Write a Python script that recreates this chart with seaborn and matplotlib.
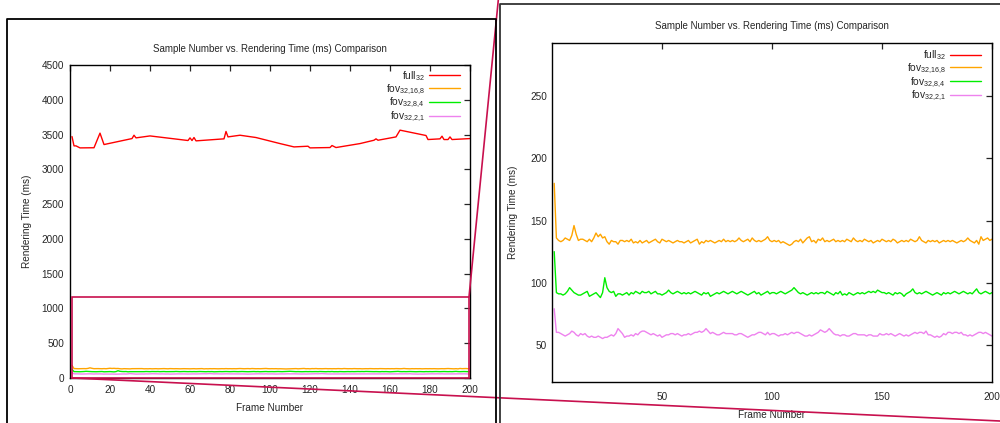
import matplotlib
matplotlib.use("Agg")
import matplotlib.pyplot as plt
import seaborn as sns
from matplotlib.patches import Rectangle, ConnectionPatch
from matplotlib.lines import Line2D

# DATA ----------------------------------------------------------------------------
frames = list(range(1, 201))

red_frames = [1, 2, 3, 5, 12, 15, 17, 31, 32, 33, 40, 59, 60, 61, 62, 63, 77, 78, 79, 85,
              93, 105, 112, 119, 120, 130, 131, 133, 145, 152, 153, 154, 163, 165, 178, 179,
              185, 186, 187, 189, 190, 191, 200]
red_ms = [3471, 3337, 3337, 3308, 3310, 3520, 3356, 3442, 3490, 3452, 3480, 3414, 3452, 3414,
          3457, 3409, 3438, 3544, 3466, 3490, 3457, 3370, 3322, 3332, 3308, 3313, 3342, 3313,
          3370, 3418, 3438, 3418, 3466, 3563, 3486, 3428, 3438, 3476, 3428, 3428, 3466, 3428,
          3442]

orange_ms = [
    180, 136, 134, 133, 134, 136, 135, 134, 138, 146, 139, 134, 135, 135, 134, 133, 135, 133, 136, 140,
    137, 139, 136, 137, 133, 131, 134, 133, 133, 131, 134, 134, 133, 134, 133, 135, 132, 133, 132, 134,
    132, 133, 134, 132, 133, 134, 135, 133, 132, 135, 134, 133, 134, 133, 132, 133, 134, 133, 133, 132,
    133, 134, 132, 133, 134, 135, 131, 133, 132, 134, 133, 134, 133, 132, 133, 134, 133, 135, 133, 134,
    133, 134, 133, 134, 136, 134, 133, 134, 135, 133, 136, 134, 133, 134, 133, 134, 135, 137, 134, 133,
    134, 133, 134, 132, 133, 132, 131, 130, 131, 133, 134, 133, 135, 132, 134, 136, 137, 133, 134, 132,
    135, 134, 136, 133, 134, 133, 134, 135, 133, 134, 133, 134, 133, 135, 134, 133, 136, 134, 133, 134,
    133, 135, 134, 133, 134, 132, 133, 134, 133, 135, 134, 133, 134, 133, 135, 134, 132, 133, 134, 133,
    134, 133, 135, 134, 133, 134, 137, 134, 133, 132, 134, 133, 134, 133, 134, 132, 133, 134, 133, 134,
    133, 134, 133, 132, 133, 134, 133, 134, 136, 134, 133, 132, 134, 131, 137, 134, 135, 136, 134, 135]

green_ms = [
    125, 92, 91, 91, 90, 91, 93, 96, 94, 92, 91, 90, 90, 91, 92, 93, 89, 90, 91, 92,
    90, 88, 92, 104, 96, 93, 92, 93, 89, 91, 91, 90, 91, 92, 90, 92, 91, 93, 92, 91,
    93, 92, 92, 93, 91, 92, 93, 91, 91, 90, 91, 92, 94, 92, 91, 92, 93, 92, 91, 92,
    91, 92, 91, 92, 93, 92, 91, 90, 92, 91, 92, 89, 90, 91, 92, 91, 92, 93, 92, 91,
    92, 93, 92, 91, 92, 93, 92, 91, 90, 91, 92, 93, 91, 92, 90, 91, 92, 93, 91, 92,
    92, 91, 92, 93, 92, 91, 92, 93, 94, 96, 94, 92, 91, 92, 91, 90, 91, 92, 91, 92,
    91, 92, 92, 91, 93, 92, 91, 90, 92, 91, 93, 90, 91, 90, 92, 91, 90, 91, 92, 91,
    92, 91, 92, 93, 92, 93, 92, 94, 93, 92, 92, 91, 92, 91, 90, 92, 91, 92, 91, 89,
    91, 92, 93, 95, 92, 91, 92, 91, 92, 93, 92, 91, 90, 91, 92, 91, 90, 92, 91, 92,
    91, 92, 93, 92, 91, 92, 93, 92, 91, 92, 91, 93, 95, 92, 91, 92, 93, 92, 91, 92]

violet_ms = [
    79, 60, 60, 59, 58, 57, 58, 59, 61, 60, 58, 57, 59, 58, 59, 57, 56, 57, 56, 56,
    57, 56, 55, 56, 56, 57, 58, 57, 59, 63, 61, 59, 56, 57, 57, 58, 57, 59, 58, 60,
    61, 61, 60, 59, 58, 59, 58, 57, 58, 56, 57, 58, 58, 59, 59, 58, 59, 58, 57, 58,
    58, 59, 58, 59, 60, 60, 61, 60, 61, 63, 61, 59, 60, 59, 58, 58, 59, 60, 59, 59,
    59, 59, 58, 58, 59, 59, 58, 57, 56, 57, 58, 58, 59, 60, 60, 59, 58, 60, 58, 59,
    59, 58, 57, 58, 58, 59, 58, 59, 60, 59, 60, 60, 59, 58, 57, 57, 58, 57, 58, 59,
    60, 62, 61, 60, 61, 63, 61, 59, 58, 58, 57, 58, 58, 57, 57, 58, 59, 59, 58, 58,
    58, 58, 57, 58, 58, 57, 57, 57, 59, 58, 58, 59, 58, 59, 58, 57, 58, 59, 58, 57,
    58, 57, 58, 59, 60, 59, 60, 60, 59, 61, 58, 58, 57, 56, 57, 56, 57, 59, 58, 60,
    60, 59, 60, 60, 59, 60, 58, 58, 57, 58, 57, 58, 59, 60, 60, 59, 60, 59, 58, 57]

labels = ["full$_{32}$", "fov$_{32{,}16{,}8}$", "fov$_{32{,}8{,}4}$", "fov$_{32{,}2{,}1}$"]
colors = ["#ff0000", "#ffa500", "#00ee00", "#ee82ee"]

# STYLE ---------------------------------------------------------------------------
sns.set_style("white")
plt.rcParams["font.family"] = ["Liberation Sans", "DejaVu Sans"]
plt.rcParams["mathtext.default"] = "regular"
plt.rcParams["font.size"] = 7.2
zoom_col = "#c8104e"

fig = plt.figure(figsize=(10, 4.23), dpi=100)
ax1 = fig.add_axes([0.070, 0.1064, 0.400, 0.740])
ax2 = fig.add_axes([0.552, 0.0969, 0.440, 0.8014])

series = [(red_frames, red_ms), (frames, orange_ms), (frames, green_ms), (frames, violet_ms)]
legend_anchor = {ax1: (0.975, 0.987), ax2: (0.975, 0.9848)}

for ax in (ax1, ax2):
    for (x, y), lab, c in zip(series, labels, colors):
        sns.lineplot(x=x, y=y, color=c, label=lab, linewidth=1.0, ax=ax)
    ax.set_xlabel("Frame Number", labelpad=6)
    ax.set_ylabel("Rendering Time (ms)")
    ax.tick_params(direction="in", top=True, right=True, length=4, width=0.9, labelsize=7.2)
    for s in ax.spines.values():
        s.set_color("black")
        s.set_linewidth(1.0)
    ax.legend(loc="upper right", bbox_to_anchor=legend_anchor[ax], markerfirst=False,
              frameon=False, handlelength=3.0, handletextpad=0.4, labelspacing=-0.05,
              borderpad=0, borderaxespad=0, fontsize=7.4)

ax1.set_xlim(0, 200)
ax1.set_ylim(0, 4500)
ax1.set_xticks(range(0, 201, 20))
ax1.set_yticks(range(0, 4501, 500))
ax1.set_title("Sample Number vs. Rendering Time (ms) Comparison", pad=9.5, fontsize=7.0)
ax1.tick_params(axis="y", pad=4.3)
ax1.tick_params(axis="x", pad=5)
ax1.yaxis.labelpad = 7

ax2.set_xlim(0, 200)
ax2.set_ylim(20, 293)
ax2.set_xticks([50, 100, 150, 200])
ax2.set_yticks(range(50, 251, 50))
ax2.set_title("Sample Number vs. Rendering Time (ms) Comparison", pad=10, fontsize=7.0)
ax2.tick_params(axis="y", pad=3.6)
ax2.tick_params(axis="x", pad=7)
ax2.yaxis.labelpad = 9

# panel frames
fig.add_artist(Line2D([0.007, 0.007, 0.496, 0.496], [0, 1 - 19.5 / 423, 1 - 19.5 / 423, 0],
                      transform=fig.transFigure, color="black", lw=1.3))
fig.add_artist(Line2D([0.5005, 0.5005, 1.0], [0, 1 - 4.5 / 423, 1 - 4.5 / 423],
                      transform=fig.transFigure, color="#333333", lw=1.3))

# zoom box and connectors
ax1.add_patch(Rectangle((1, 0), 198.5, 1165, fill=False, ec=zoom_col, lw=1.2, clip_on=False, zorder=5))
con1 = ConnectionPatch(xyA=(199.5, 1165), coordsA=ax1.transData, xyB=(0.4983, 1.0),
                       coordsB=fig.transFigure, color=zoom_col, lw=1.2)
con2 = ConnectionPatch(xyA=(1, 0), coordsA=ax1.transData, xyB=(1.0, 0.0047),
                       coordsB=fig.transFigure, color=zoom_col, lw=1.2)
fig.add_artist(con1)
fig.add_artist(con2)

fig.savefig("out.png", dpi=100)
